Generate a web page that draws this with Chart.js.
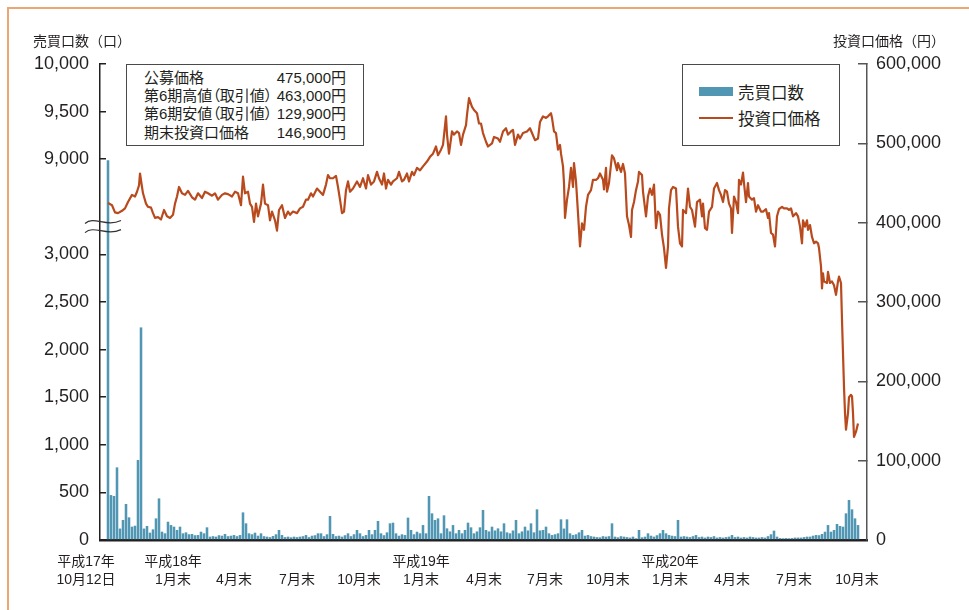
<!DOCTYPE html>
<html lang="ja">
<head>
<meta charset="utf-8">
<script src="https://cdn.jsdelivr.net/npm/chart.js@4.4.1/dist/chart.umd.min.js"></script>
<style>
html,body{margin:0;padding:0;background:#fff;}
#wrap{position:relative;width:969px;height:610px;overflow:hidden;color:#231f20;font-family:'Liberation Sans','Noto Sans CJK JP',sans-serif;}
#frame{position:absolute;left:7px;top:7px;width:1200px;height:900px;border-top:2px solid #EBA773;border-left:2px solid #EBA773;}
canvas{position:absolute;left:0;top:0;}
.axisTitle{position:absolute;top:31px;font-family:'Noto Sans CJK JP',sans-serif;font-size:14px;line-height:18px;white-space:nowrap;}
#info{position:absolute;left:126px;top:64px;width:238px;height:82px;box-sizing:border-box;border:1.5px solid #4a4a4a;padding:4px 17px 0 17px;font-size:15px;line-height:18.2px;font-feature-settings:"palt";background:#fff;}
#info .row{display:flex;justify-content:space-between;white-space:nowrap;}
#legend{position:absolute;left:682px;top:64px;width:158px;height:82px;box-sizing:border-box;border:1.5px solid #4a4a4a;background:#fff;}
#legend .sw{position:absolute;left:16px;width:34px;}
#legend .lt{position:absolute;left:55px;font-family:'Noto Sans CJK JP',sans-serif;font-size:16.5px;line-height:20px;white-space:nowrap;}
</style>
</head>
<body>
<div id="wrap">
  <div id="frame"></div>
  <canvas id="c" width="969" height="610"></canvas>
  <div class="axisTitle" id="tL" style="left:33px;"></div>
  <div class="axisTitle" id="tR" style="right:24px;"></div>
  <div id="info"></div>
  <div id="legend"></div>
</div>
<script>
// ---------- colours ----------
const BAR_COLOR = '#5196B3';
const LINE_COLOR = '#B84A1E';
const INK = '#231f20';

// ---------- texts ----------
const volAxisTitle = '売買口数（口）';
const priceAxisTitle = '投資口価格（円）';
const volLabel = '売買口数';
const priceLabel = '投資口価格';
const infoLabels = ['公募価格', '第6期高値（取引値）', '第6期安値（取引値）', '期末投資口価格'];
const infoValues = ['475,000円', '463,000円', '129,900円', '146,900円'];

// ---------- x axis (trading-day index from 平成17年10月12日) ----------
const xTickDay = [-22, 65, 126, 189, 251, 313, 376, 437, 500, 562, 624, 686, 749];
const xTickLabel = [
  ['平成17年', '10月12日'], ['平成18年', '1月末'], ['', '4月末'], ['', '7月末'], ['', '10月末'],
  ['平成19年', '1月末'], ['', '4月末'], ['', '7月末'], ['', '10月末'],
  ['平成20年', '1月末'], ['', '4月末'], ['', '7月末'], ['', '10月末']
];

// ---------- 売買口数 (units), one value per 3 trading days ----------
const VOL_STEP_DAYS = 3;
const volume = [
  8990, 472, 462, 763, 120, 210, 378, 238, 140, 150,
  840, 2233, 120, 147, 77, 112, 227, 437, 87, 70,
  192, 157, 140, 105, 140, 70, 80, 60, 63, 50,
  52, 87, 70, 133, 35, 40, 35, 50, 45, 63,
  40, 45, 52, 40, 52, 290, 175, 70, 60, 77,
  45, 70, 40, 35, 30, 42, 60, 105, 52, 30,
  35, 28, 35, 30, 35, 40, 52, 30, 45, 50,
  70, 70, 40, 60, 252, 63, 40, 45, 35, 50,
  70, 40, 60, 105, 70, 40, 52, 105, 60, 105,
  200, 70, 50, 80, 175, 182, 70, 45, 60, 52,
  235, 105, 60, 87, 70, 157, 70, 462, 280, 210,
  227, 70, 259, 122, 90, 157, 70, 105, 70, 105,
  182, 133, 70, 90, 133, 315, 105, 90, 140, 100,
  122, 90, 175, 80, 70, 100, 210, 70, 90, 140,
  100, 175, 80, 322, 100, 105, 140, 70, 52, 60,
  70, 217, 120, 217, 70, 52, 60, 80, 105, 45,
  52, 40, 35, 30, 28, 40, 35, 40, 175, 35,
  28, 40, 35, 30, 25, 35, 18, 105, 28, 35,
  70, 45, 35, 50, 70, 105, 70, 52, 45, 40,
  210, 35, 40, 35, 30, 40, 52, 30, 35, 25,
  35, 30, 40, 25, 30, 25, 30, 35, 52, 30,
  35, 25, 30, 25, 35, 30, 25, 25, 30, 25,
  40, 60, 98, 35, 20, 18, 20, 18, 20, 25,
  25, 25, 30, 35, 35, 45, 52, 50, 63, 87,
  157, 87, 105, 168, 147, 140, 280, 420, 322, 227, 157
];

// ---------- 投資口価格 (yen) ----------
const priceDay = [
  0,4,7,10,14,17,20,24,27,29,31,32,34,35,38,40,43,45,47,50,53,56,59,62,65,67,69,71,74,77,80,84,87,90,94,97,100,104,107,110,114,117,120,
  124,127,130,133,135,137,140,142,144,146,148,150,153,155,157,160,162,164,167,169,171,174,177,180,182,185,189,192,195,198,200,203,205,209,212,215,218,220,222,225,228,230,232,234,236,238,240,242,245,
  249,252,255,258,260,263,266,269,271,274,276,278,280,283,285,289,291,294,296,299,301,304,306,309,312,315,319,322,325,328,330,333,335,338,339,341,344,346,349,351,353,355,358,359,361,364,366,369,371,
  373,375,378,380,384,386,390,392,395,398,400,403,405,407,410,412,415,419,422,424,427,430,432,435,438,440,443,444,446,448,450,452,453,455,456,457,459,461,463,465,466,468,470,472,474,476,478,480,483,485,488,490,492,
  495,496,498,499,501,504,506,509,510,513,515,517,519,521,523,524,526,528,530,531,534,535,538,540,542,544,546,548,550,552,554,556,558,560,561,563,565,568,570,572,574,575,578,580,582,584,587,589,592,594,595,597,599,601,604,606,609,611,613,615,617,
  619,621,623,624,626,628,630,631,633,635,636,638,640,641,644,646,648,650,653,655,658,660,661,663,665,667,669,671,674,676,679,681,683,685,688,690,692,694,695,697,699,700,702,704,706,708,710,711,713,714,715,716,719,720,722,724,726,728,730,731,733,734,736,737,738,740,741,743,744,745,746,748,750
];
const priceYen = [
  425000,422000,413000,412000,415000,418000,426000,435000,433000,439000,447000,462000,445000,437000,424000,420000,419000,412000,406000,407000,404000,416000,408000,406000,410000,424000,433000,445000,437000,435000,440000,432000,429000,437000,431000,439000,437000,434000,437000,429000,435000,437000,436000,
  433000,439000,437000,422000,458000,437000,439000,424000,420000,401000,424000,408000,424000,448000,424000,422000,403000,414000,403000,390000,416000,422000,406000,414000,410000,414000,412000,418000,420000,429000,429000,437000,433000,443000,439000,435000,448000,460000,456000,456000,459000,445000,429000,412000,414000,441000,452000,439000,443000,
  452000,445000,456000,443000,460000,448000,452000,464000,456000,448000,462000,443000,454000,448000,452000,456000,464000,452000,454000,462000,452000,464000,460000,469000,466000,471000,477000,483000,487000,496000,485000,492000,498000,534000,511000,487000,515000,511000,515000,513000,498000,511000,523000,536000,557000,546000,542000,538000,525000,
  525000,513000,502000,496000,500000,508000,506000,502000,515000,519000,511000,515000,517000,498000,511000,506000,513000,515000,519000,513000,504000,506000,527000,534000,532000,534000,538000,532000,515000,513000,492000,498000,487000,471000,450000,406000,429000,445000,469000,445000,475000,452000,412000,370000,399000,391000,420000,435000,441000,454000,454000,456000,462000,
  454000,442000,469000,439000,450000,485000,481000,466000,475000,464000,474000,462000,408000,397000,382000,416000,426000,441000,452000,464000,460000,439000,408000,433000,443000,435000,448000,393000,414000,410000,385000,368000,343000,370000,418000,441000,445000,443000,395000,374000,370000,416000,412000,443000,420000,416000,395000,426000,429000,408000,424000,393000,391000,414000,420000,443000,450000,441000,435000,426000,441000,
  439000,424000,418000,387000,433000,426000,412000,454000,448000,463000,450000,426000,450000,433000,429000,431000,414000,422000,414000,414000,417000,406000,412000,387000,385000,370000,408000,417000,420000,418000,418000,416000,418000,408000,412000,408000,395000,374000,403000,395000,403000,391000,397000,382000,374000,376000,374000,368000,345000,317000,336000,326000,324000,338000,324000,326000,321000,309000,326000,332000,324000,277000,193000,160000,139000,160000,180000,183000,181000,160000,129900,136500,146900
];

// ---------- axis ticks ----------
const volTicks = [0, 500, 1000, 1500, 2000, 2500, 3000, 9000, 9500, 10000];
const priceTicks = [0, 100000, 200000, 300000, 400000, 500000, 600000];

// broken left axis: 0–3,000 then a gap, then 9,000–10,000
const BREAK_LOW = 3000, BREAK_HIGH = 9000, BREAK_GAP = 1000;
function volToAxis(v) { return v > BREAK_LOW ? v - (BREAK_HIGH - BREAK_LOW - BREAK_GAP) : v; }
const fmt = v => v.toLocaleString('en-US');

// ---------- HTML texts ----------
document.getElementById('tL').textContent = volAxisTitle;
document.getElementById('tR').textContent = priceAxisTitle;
const info = document.getElementById('info');
infoLabels.forEach((l, i) => {
  const r = document.createElement('div'); r.className = 'row';
  const a = document.createElement('span'); a.textContent = l;
  const b = document.createElement('span'); b.textContent = infoValues[i];
  r.appendChild(a); r.appendChild(b); info.appendChild(r);
});
const lg = document.getElementById('legend');
lg.innerHTML =
  '<div class="sw" style="top:21.5px;height:9.5px;background:' + BAR_COLOR + '"></div>' +
  '<div class="lt" style="top:17px">' + volLabel + '</div>' +
  '<div class="sw" style="top:51.5px;height:2.2px;background:' + LINE_COLOR + '"></div>' +
  '<div class="lt" style="top:43px">' + priceLabel + '</div>';

// ---------- break marks on the left axis ----------
const breakMarks = {
  id: 'breakMarks',
  afterDraw(chart) {
    const s = chart.scales.yVol, ctx = chart.ctx, x0 = s.right;
    [3345, 3250].forEach(v => {
      const py = s.getPixelForValue(v);
      ctx.save();
      ctx.beginPath();
      ctx.moveTo(x0 - 15, py + 2);
      ctx.bezierCurveTo(x0 - 6, py - 6, x0 + 6, py + 6, x0 + 21, py - 1);
      ctx.strokeStyle = '#333';
      ctx.lineWidth = 1.2;
      ctx.stroke();
      ctx.restore();
    });
  }
};

Chart.defaults.font.family = "'Liberation Sans','Noto Sans CJK JP',sans-serif";
Chart.defaults.color = INK;

new Chart(document.getElementById('c').getContext('2d'), {
  type: 'bar',
  data: {
    datasets: [
      {
        type: 'line', label: priceLabel, yAxisID: 'yPrice', order: 0,
        data: priceDay.map((d, i) => ({ x: d, y: priceYen[i] })),
        borderColor: LINE_COLOR, backgroundColor: LINE_COLOR, borderWidth: 2.2,
        pointRadius: 0, tension: 0, fill: false, borderJoinStyle: 'round'
      },
      {
        type: 'bar', label: volLabel, yAxisID: 'yVol', order: 1,
        data: volume.map((v, i) => ({ x: i * VOL_STEP_DAYS, y: volToAxis(v) })),
        backgroundColor: BAR_COLOR, borderWidth: 0,
        barPercentage: 0.85, categoryPercentage: 1
      }
    ]
  },
  options: {
    responsive: false, animation: false, devicePixelRatio: 1,
    layout: { padding: { top: 64, left: 0, right: 0, bottom: 0 } },
    plugins: { legend: { display: false }, tooltip: { enabled: false }, title: { display: false } },
    scales: {
      x: {
        type: 'linear', min: -8, max: 759, offset: false,
        afterBuildTicks: ax => { ax.ticks = xTickDay.map(v => ({ value: v })); },
        afterFit: s => { s.height = 70; },
        ticks: {
          autoSkip: false, maxRotation: 0, minRotation: 0, padding: 13, color: INK,
          font: { size: 14, lineHeight: 1.3 },
          callback: (v, i) => xTickLabel[i]
        },
        grid: { display: false, drawTicks: false },
        border: { display: true, color: INK, width: 2.5 }
      },
      yVol: {
        type: 'linear', position: 'left', min: 0, max: volToAxis(volTicks[volTicks.length - 1]),
        afterBuildTicks: ax => { ax.ticks = volTicks.map(v => ({ value: volToAxis(v) })); },
        afterFit: s => { s.width = 100; },
        ticks: { padding: 17, color: INK, font: { size: 18 }, callback: (v, i) => fmt(volTicks[i]) },
        grid: { drawOnChartArea: false, drawTicks: true, tickLength: -6, color: INK, lineWidth: 1.5 },
        border: { display: true, color: INK, width: 1.5 }
      },
      yPrice: {
        type: 'linear', position: 'right', min: 0, max: priceTicks[priceTicks.length - 1],
        afterBuildTicks: ax => { ax.ticks = priceTicks.map(v => ({ value: v })); },
        afterFit: s => { s.width = 102; },
        ticks: { padding: 18, color: INK, font: { size: 18 }, callback: (v, i) => fmt(priceTicks[i]) },
        grid: { drawOnChartArea: false, drawTicks: true, tickLength: -9, color: '#555', lineWidth: 1.5 },
        border: { display: true, color: '#555', width: 1.5 }
      }
    }
  },
  plugins: [breakMarks]
});
</script>
</body>
</html>
